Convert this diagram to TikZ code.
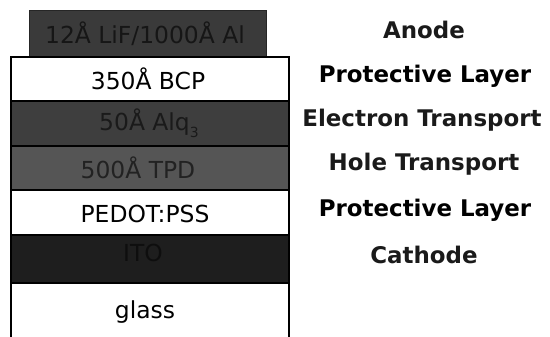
\documentclass[tikz,border=0pt]{standalone}
\usepackage{fontspec}
\setmainfont{DejaVu Sans}
\definecolor{anodefill}{HTML}{3A3A3A}
\definecolor{anodetext}{HTML}{161616}
\definecolor{alqfill}{HTML}{3E3E3E}
\definecolor{alqtext}{HTML}{1A1A1A}
\definecolor{tpdfill}{HTML}{555555}
\definecolor{tpdtext}{HTML}{222222}
\definecolor{itofill}{HTML}{1E1E1E}
\definecolor{itotext}{HTML}{0E0E0E}
\definecolor{labgray}{HTML}{1A1A1A}
\begin{document}
\begin{tikzpicture}[x=1bp,y=-1bp,
  layerbox/.style={draw=black, line width=2.2pt, inner sep=0pt, anchor=north west, minimum width=278bp},
  lefttext/.style={anchor=base, inner sep=0pt, font=\fontsize{23.5}{28}\selectfont},
  righttext/.style={anchor=base, inner sep=0pt, text=labgray, font=\fontsize{23}{28}\selectfont\bfseries}]
\useasboundingbox (0,0) rectangle (550,336);
\begin{scope}
\clip (0,0) rectangle (550,336);
\node[layerbox, fill=anodefill, draw=black!85, line width=1.2pt, minimum width=237bp, minimum height=46bp] (anode) at (29,10) {};
\node[layerbox, fill=white, minimum height=44bp] (bcp) at (10,56) {};
\node[layerbox, fill=alqfill, minimum height=45bp] (alq) at (10,100) {};
\node[layerbox, fill=tpdfill, minimum height=44bp] (tpd) at (10,145) {};
\node[layerbox, fill=white, minimum height=45bp] (pedot) at (10,189) {};
\node[layerbox, fill=itofill, minimum height=48bp] (ito) at (10,234) {};
\node[layerbox, fill=white, minimum height=70bp] (glass) at (10,282) {};
\end{scope}
% layer texts
\node[lefttext, text=anodetext] (tanode) at (145,43) {12Å LiF/1000Å Al};
\node[lefttext] (tbcp) at (148,89) {350Å BCP};
\node[lefttext, text=alqtext] (talq) at (149,130) {50Å Alq\raisebox{-0.3em}{\fontsize{14}{14}\selectfont 3}};
\node[lefttext, text=tpdtext] (ttpd) at (138,178) {500Å TPD};
\node[lefttext] (tpedot) at (145,222) {PEDOT:PSS};
\node[lefttext, text=itotext] (tito) at (143,261) {ITO};
\node[lefttext] (tglass) at (145,318) {glass};
% right labels
\node[righttext] (lanode) at (424,38) {Anode};
\node[righttext, text=black] (lprot1) at (425,82) {Protective Layer};
\node[righttext] (lelec) at (422,126) {Electron Transport};
\node[righttext] (lhole) at (424,170) {Hole Transport};
\node[righttext, text=black] (lprot2) at (425,216) {Protective Layer};
\node[righttext] (lcath) at (424,263) {Cathode};
\end{tikzpicture}
\end{document}
